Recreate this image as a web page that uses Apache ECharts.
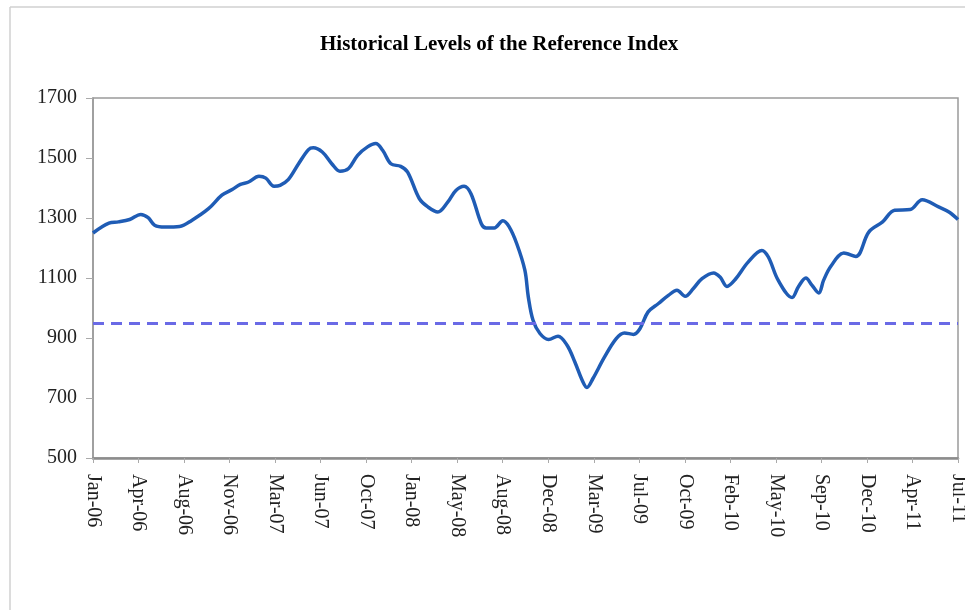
<!DOCTYPE html>
<html><head><meta charset="utf-8">
<script src="https://cdn.jsdelivr.net/npm/echarts@6/dist/echarts.min.js"></script>
<style>html,body{margin:0;padding:0;background:#fff}#c{width:965px;height:610px}</style>
</head><body><div id="c"></div>
<script>
const chartTitle = 'Historical Levels of the Reference Index';
const tickLabels = ['Jan-06','Apr-06','Aug-06','Nov-06','Mar-07','Jun-07','Oct-07','Jan-08','May-08','Aug-08',
  'Dec-08','Mar-09','Jul-09','Oct-09','Feb-10','May-10','Sep-10','Dec-10','Apr-11','Jul-11'];
const startDate = '2006-01-01';
const endDate = '2011-07-01';
const threshold = 950;
const yMin = 500, yMax = 1700, yStep = 200;
const dates = [
  '2006-01-01','2006-02-07','2006-03-01','2006-03-27','2006-04-22','2006-05-09','2006-05-24','2006-06-17','2006-07-21','2006-08-18',
  '2006-09-26','2006-10-27','2006-11-20','2006-12-09','2006-12-28','2007-01-21','2007-02-06','2007-02-25','2007-03-11','2007-03-30',
  '2007-04-23','2007-05-16','2007-05-27','2007-06-17','2007-07-09','2007-07-28','2007-08-17','2007-09-07','2007-09-30','2007-10-19',
  '2007-11-04','2007-11-23','2007-12-16','2008-01-01','2008-01-28','2008-02-17','2008-03-11','2008-04-03','2008-04-22','2008-05-11',
  '2008-05-27','2008-06-20','2008-07-01','2008-07-20','2008-08-09','2008-08-23','2008-09-10','2008-09-29','2008-10-07','2008-10-18',
  '2008-11-03','2008-11-23','2008-12-15','2009-01-05','2009-01-23','2009-02-09','2009-02-20','2009-03-06','2009-04-02','2009-04-29',
  '2009-05-18','2009-06-08','2009-06-23','2009-07-12','2009-08-05','2009-08-28','2009-09-17','2009-10-06','2009-10-25','2009-11-14',
  '2009-12-11','2009-12-26','2010-01-11','2010-01-30','2010-03-01','2010-04-02','2010-04-17','2010-05-10','2010-06-11','2010-06-26',
  '2010-07-13','2010-07-27','2010-08-12','2010-08-23','2010-09-09','2010-10-09','2010-11-06','2010-12-06','2011-01-07','2011-02-04',
  '2011-03-12','2011-04-09','2011-05-17','2011-06-10','2011-07-01'
];
const values = [
  1250,1283,1287,1295,1312,1301,1276,1270,1272,1292,
  1331,1376,1395,1412,1420,1439,1433,1406,1409,1428,
  1481,1528,1534,1520,1481,1456,1465,1509,1537,1548,
  1526,1481,1472,1453,1365,1337,1320,1353,1392,1406,
  1381,1281,1267,1267,1291,1272,1215,1126,1037,959,
  915,895,906,876,820,759,735,765,837,898,
  917,912,931,987,1015,1042,1059,1039,1065,1098,
  1117,1103,1072,1095,1153,1192,1170,1092,1035,1072,
  1100,1076,1050,1092,1139,1183,1172,1253,1287,1326,
  1328,1361,1337,1320,1295
];

const serif = "'Liberation Serif','Times New Roman',serif";
const chart = echarts.init(document.getElementById('c'), null, {renderer: 'canvas'});
chart.setOption({
  animation: false,
  backgroundColor: '#fff',
  title: {
    text: chartTitle, left: 315, top: 29,
    textStyle: {fontFamily: serif, fontWeight: 'bold', fontSize: 21, color: '#000'}
  },
  grid: {left: 93, top: 98, right: 7, bottom: 152, containLabel: false, outerBoundsMode: 'none',
    show: true, borderColor: '#9a9a9a', borderWidth: 1.5, backgroundColor: 'transparent'},
  graphic: [
    {type: 'line', shape: {x1: 10, y1: 7, x2: 965, y2: 7}, style: {stroke: '#d0d0d0', lineWidth: 1.5}, silent: true},
    {type: 'line', shape: {x1: 10, y1: 7, x2: 10, y2: 610}, style: {stroke: '#d0d0d0', lineWidth: 1.5}, silent: true}
  ],
  xAxis: [
    {type: 'time', min: startDate, max: endDate, show: false, splitLine: {show: false}},
    {type: 'category', data: tickLabels, boundaryGap: false, position: 'bottom',
      axisLine: {show: true, lineStyle: {color: '#8c8c8c', width: 2.5}},
      axisTick: {show: true, interval: 0, length: 5, lineStyle: {color: '#aaa', width: 1}},
      axisLabel: {interval: 0, rotate: -90, margin: 16, fontFamily: serif, fontSize: 20, color: '#222'},
      splitLine: {show: false}}
  ],
  yAxis: {
    type: 'value', min: yMin, max: yMax, interval: yStep,
    axisLine: {show: true, lineStyle: {color: '#9a9a9a', width: 1.5}},
    axisTick: {show: true, length: 7, lineStyle: {color: '#aaa', width: 1}},
    axisLabel: {margin: 16, fontFamily: serif, fontSize: 20, color: '#222', formatter: v => String(v)},
    splitLine: {show: false}
  },
  series: [{
    type: 'line', xAxisIndex: 0,
    data: dates.map((d, i) => [d, values[i]]),
    showSymbol: false, smooth: 0.35,
    lineStyle: {color: '#1f5cb5', width: 3.5},
    markLine: {
      silent: true, symbol: ['none', 'none'],
      label: {show: false},
      lineStyle: {color: '#6a6ae6', width: 3, type: [11, 7]},
      data: [{yAxis: threshold}]
    }
  }]
});
</script></body></html>
